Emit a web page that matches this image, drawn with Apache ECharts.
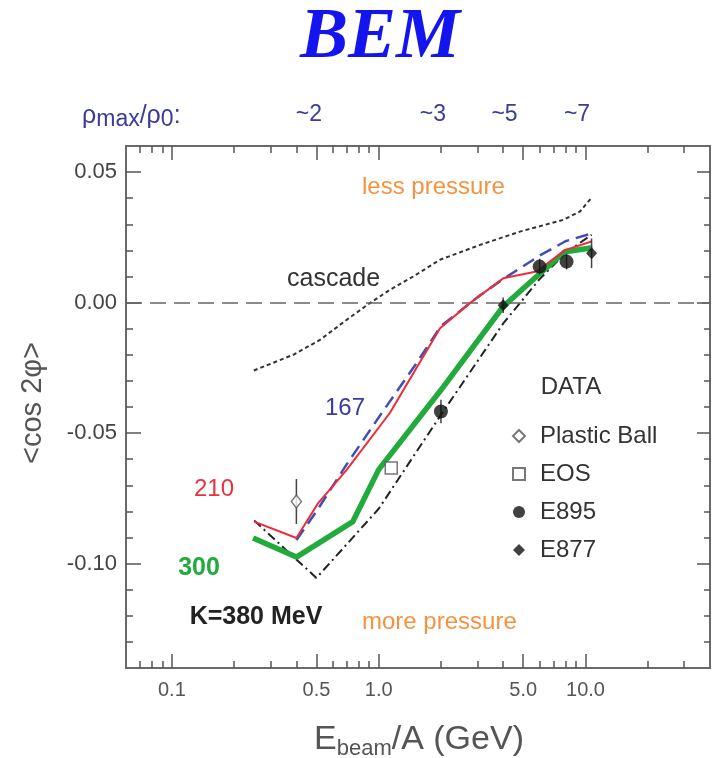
<!DOCTYPE html>
<html>
<head>
<meta charset="utf-8">
<script src="https://cdn.jsdelivr.net/npm/echarts@6/dist/echarts.min.js"></script>
<style>
  html, body { margin: 0; padding: 0; background: #fff; }
  #chart { width: 713px; height: 758px; }
</style>
</head>
<body>
<div id="chart"></div>
<script>
// Beam energy per nucleon (GeV) and <cos 2phi> for each transport curve
const cascadeE = [0.249, 0.386, 0.52, 0.70, 0.906, 1.133, 1.469, 1.977, 3.09, 4.82, 7.80, 9.40, 10.7];
const cascadeV = [-0.026, -0.020, -0.0143, -0.0066, -0.0002, 0.0049, 0.0100, 0.0164, 0.0221, 0.0272, 0.0317, 0.0349, 0.0402];

const k380E = [0.25, 0.5, 1.0, 2.0, 4.0, 6.0, 8.0, 10.7];
const k380V = [-0.0835, -0.1055, -0.079, -0.043, -0.008, 0.009, 0.019, 0.026];

const k300E = [0.247, 0.4, 0.75, 1.0, 2.0, 4.0, 5.8, 7.95, 10.8];
const k300V = [-0.0902, -0.0975, -0.0839, -0.064, -0.0335, -0.0015, 0.010, 0.0195, 0.021];

const k167E = [0.4, 0.5, 0.7, 1.0, 1.5, 2.0, 3.0, 4.0, 6.0, 8.0, 10.7];
const k167V = [-0.091, -0.080, -0.062, -0.044, -0.024, -0.009, 0.002, 0.009, 0.018, 0.0235, 0.0265];

const k210E = [0.25, 0.4, 0.51, 0.70, 1.13, 1.98, 2.76, 4.0, 5.8, 8.0, 10.7];
const k210V = [-0.0839, -0.0902, -0.0768, -0.0641, -0.0424, -0.0098, -0.0002, 0.0093, 0.0119, 0.0202, 0.0234];

// Measurements
const plasticE = [0.4];
const plasticV = [-0.0762];
const plasticErr = [0.0086];

const eosE = [1.15];
const eosV = [-0.0634];

const e895E = [2.0, 6.0, 8.1];
const e895V = [-0.0417, 0.0138, 0.0157];
const e895Err = [0.0045, 0.003, 0.003];

const e877E = [4.0, 10.7];
const e877V = [-0.001, 0.0189];
const e877Err = [0.003, 0.0057];

// Axis ticks
const xMajorTicks = [0.1, 0.5, 1, 5, 10];
const xMajorLabels = ['0.1', '0.5', '1.0', '5.0', '10.0'];
const xMinorTicks = [0.07, 0.08, 0.09, 0.2, 0.3, 0.4, 0.6, 0.7, 0.8, 0.9, 2, 3, 4, 6, 7, 8, 9, 20, 30];
const densityE = [0.46, 1.83, 4.06, 9.1];
const densityLabels = ['~2', '~3', '~5', '~7'];
const yMajorTicks = [-0.10, -0.05, 0.00, 0.05];
const yMinorTicks = [-0.13, -0.12, -0.11, -0.09, -0.08, -0.07, -0.06, -0.04, -0.03, -0.02, -0.01, 0.01, 0.02, 0.03, 0.04];

const X_MIN = Math.log10(0.06), X_MAX = Math.log10(40);
const Y_MIN = -0.14, Y_MAX = 0.06;

const lg = v => Math.log10(v);
const pts = (E, V) => E.map((e, i) => [lg(e), V[i]]);
const errPts = (E, V, S) => E.map((e, i) => [lg(e), V[i], S[i]]);
const pickLabel = (vals, labels) => v => {
  for (let i = 0; i < vals.length; i++) if (Math.abs(lg(vals[i]) - v) < 1e-6) return labels[i];
  return '';
};

const FONT = 'Liberation Sans';
const AXIS_COLOR = '#6a6a6a';

function xAxisDef(position, tickVals, len, showLine, labelCfg) {
  return {
    type: 'value', position: position, min: X_MIN, max: X_MAX,
    splitLine: { show: false },
    axisLine: { show: showLine, onZero: false, lineStyle: { color: AXIS_COLOR, width: 2 } },
    axisTick: { show: true, inside: true, length: len, customValues: tickVals.map(lg),
                lineStyle: { color: '#555', width: 1.5 } },
    axisLabel: labelCfg || { show: false }
  };
}
function yAxisDef(position, tickVals, len, showLine, labelCfg) {
  return {
    type: 'value', position: position, min: Y_MIN, max: Y_MAX,
    splitLine: { show: false },
    axisLine: { show: showLine, onZero: false, lineStyle: { color: AXIS_COLOR, width: 2 } },
    axisTick: { show: true, inside: true, length: len, customValues: tickVals,
                lineStyle: { color: '#555', width: 1.5 } },
    axisLabel: labelCfg || { show: false }
  };
}

const chart = echarts.init(document.getElementById('chart'), null, { renderer: 'canvas' });

const option = {
  animation: false,
  backgroundColor: '#fff',
  grid: { left: 126, right: 3, top: 146, bottom: 90, containLabel: false },
  xAxis: [
    xAxisDef('bottom', xMajorTicks, 14, true, {
      show: true, customValues: xMajorTicks.map(lg), formatter: pickLabel(xMajorTicks, xMajorLabels),
      fontFamily: FONT, fontSize: 20, color: '#555', margin: 12
    }),
    xAxisDef('bottom', xMinorTicks, 7, false),
    xAxisDef('top', xMajorTicks, 14, true, {
      show: true, customValues: densityE.map(lg), formatter: pickLabel(densityE, densityLabels),
      fontFamily: FONT, fontSize: 23, color: '#3b3b98', margin: 20
    }),
    xAxisDef('top', xMinorTicks, 7, false)
  ],
  yAxis: [
    yAxisDef('left', yMajorTicks, 15, true, {
      show: true, customValues: yMajorTicks, formatter: v => (Math.abs(v) < 1e-9 ? 0 : v).toFixed(2),
      fontFamily: FONT, fontSize: 22, color: '#444', margin: 9
    }),
    yAxisDef('left', yMinorTicks, 7, false),
    yAxisDef('right', yMajorTicks, 13, true),
    yAxisDef('right', yMinorTicks, 6, false)
  ],
  legend: {
    orient: 'vertical', left: 507, top: 419, itemGap: 14,
    itemWidth: 12, itemHeight: 12,
    data: ['Plastic Ball', 'EOS', 'E895', 'E877'],
    textStyle: { fontFamily: FONT, fontSize: 24, color: '#333', padding: [0, 0, 0, 10] }
  },
  series: [
    {
      name: 'cascade', type: 'line', data: pts(cascadeE, cascadeV), symbol: 'none',
      lineStyle: { color: '#333', width: 2, type: [4, 3] },
      markLine: {
        silent: true, symbol: 'none', label: { show: false },
        lineStyle: { color: '#666', width: 1.5, type: [16, 8] },
        data: [{ yAxis: 0 }]
      },
      z: 2
    },
    {
      name: 'K=380', type: 'line', data: pts(k380E, k380V), symbol: 'none',
      lineStyle: { color: '#222', width: 2, type: [9, 4, 2, 4] }, z: 3
    },
    {
      name: '300', type: 'line', data: pts(k300E, k300V), symbol: 'none',
      lineStyle: { color: '#22aa3c', width: 5.5 }, z: 4
    },
    {
      name: '167', type: 'line', data: pts(k167E, k167V), symbol: 'none',
      lineStyle: { color: '#3f4fb5', width: 2.5, type: [13, 7] }, z: 5
    },
    {
      name: '210', type: 'line', data: pts(k210E, k210V), symbol: 'none',
      lineStyle: { color: '#ee2b3b', width: 2 }, z: 6
    },
    {
      name: 'errors', type: 'custom', z: 7,
      data: errPts(plasticE, plasticV, plasticErr).concat(errPts(e895E, e895V, e895Err), errPts(e877E, e877V, e877Err)),
      renderItem: (params, api) => {
        const x = api.value(0), y = api.value(1), e = api.value(2);
        const a = api.coord([x, y + e]), b = api.coord([x, y - e]);
        return { type: 'line', shape: { x1: a[0], y1: a[1], x2: b[0], y2: b[1] },
                 style: { stroke: '#444', lineWidth: 1.5 } };
      }
    },
    {
      name: 'Plastic Ball', type: 'scatter', data: pts(plasticE, plasticV), symbol: 'diamond', symbolSize: [10, 13],
      itemStyle: { color: '#fff', borderColor: '#555', borderWidth: 1.5 }, z: 8
    },
    {
      name: 'EOS', type: 'scatter', data: pts(eosE, eosV), symbol: 'rect', symbolSize: 12,
      itemStyle: { color: '#fff', borderColor: '#555', borderWidth: 1.5 }, z: 8
    },
    {
      name: 'E895', type: 'scatter', data: pts(e895E, e895V), symbol: 'circle', symbolSize: 14,
      itemStyle: { color: '#111' }, z: 8
    },
    {
      name: 'E877', type: 'scatter', data: pts(e877E, e877V), symbol: 'diamond', symbolSize: [11, 12],
      itemStyle: { color: '#111' }, z: 8
    }
  ],
  graphic: [
    { type: 'text', x: 380, y: 38, style: { text: 'BEM', font: 'italic bold 72px "Liberation Serif"', fill: '#1414ee', align: 'center', verticalAlign: 'middle' } },
    { type: 'text', x: 82, y: 116, style: {
        text: '{a|ρ}{s|max}{a|/ρ}{s|0}{a|:}', align: 'left', verticalAlign: 'middle',
        rich: {
          a: { fontFamily: FONT, fontSize: 25, fill: '#3b3b98', lineHeight: 30 },
          s: { fontFamily: FONT, fontSize: 23, fill: '#3b3b98', lineHeight: 26, verticalAlign: 'bottom' }
        } } },
    { type: 'text', x: 362, y: 187, style: { text: 'less pressure', font: '24px "Liberation Sans"', fill: '#f5923e', align: 'left', verticalAlign: 'middle' } },
    { type: 'text', x: 362, y: 622, style: { text: 'more pressure', font: '24px "Liberation Sans"', fill: '#f5923e', align: 'left', verticalAlign: 'middle' } },
    { type: 'text', x: 287, y: 279, style: { text: 'cascade', font: '25px "Liberation Sans"', fill: '#333', align: 'left', verticalAlign: 'middle' } },
    { type: 'text', x: 345, y: 408, style: { text: '167', font: '24px "Liberation Sans"', fill: '#3a3aa6', align: 'center', verticalAlign: 'middle' } },
    { type: 'text', x: 214, y: 489, style: { text: '210', font: '24px "Liberation Sans"', fill: '#e8323c', align: 'center', verticalAlign: 'middle' } },
    { type: 'text', x: 199, y: 568, style: { text: '300', font: 'bold 25px "Liberation Sans"', fill: '#22aa3c', align: 'center', verticalAlign: 'middle' } },
    { type: 'text', x: 256, y: 617, style: { text: 'K=380 MeV', font: 'bold 25px "Liberation Sans"', fill: '#222', align: 'center', verticalAlign: 'middle' } },
    { type: 'text', x: 571, y: 387, style: { text: 'DATA', font: '24px "Liberation Sans"', fill: '#333', align: 'center', verticalAlign: 'middle' } },
    { type: 'text', x: 33, y: 403, rotation: Math.PI / 2, style: { text: '<cos 2φ>', font: '29px "Liberation Sans"', fill: '#555', align: 'center', verticalAlign: 'middle' } },
    { type: 'text', x: 419, y: 740, style: {
        text: '{a|E}{s|beam}{a|/A (GeV)}', align: 'center', verticalAlign: 'middle',
        rich: {
          a: { fontFamily: FONT, fontSize: 34, fill: '#555', lineHeight: 40 },
          s: { fontFamily: FONT, fontSize: 22, fill: '#555', lineHeight: 18, verticalAlign: 'bottom' }
        } } }
  ]
};

chart.setOption(option);
</script>
</body>
</html>
